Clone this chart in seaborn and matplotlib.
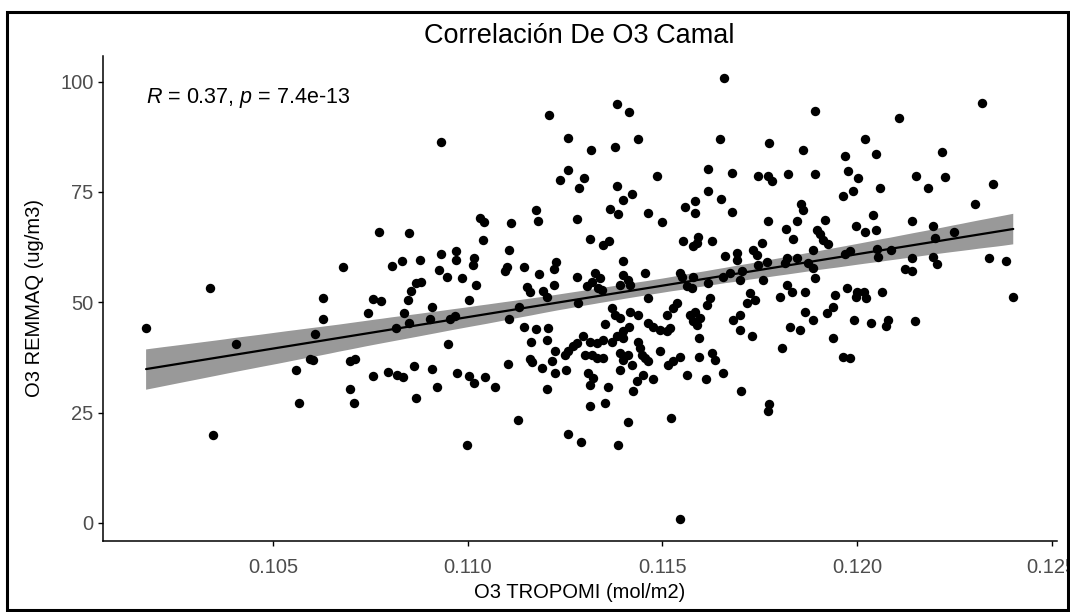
import matplotlib
matplotlib.use("Agg")
import matplotlib.pyplot as plt
from matplotlib.patches import Rectangle
from matplotlib.collections import PolyCollection
import seaborn as sns
import pandas as pd

# O3 column from TROPOMI (mol/m2) and ground O3 from the REMMAQ Camal station (ug/m3)
tropomi = [
    0.10174, 0.10338, 0.10345, 0.10405, 0.10558, 0.10566, 0.10595, 0.10603, 0.10608, 0.10628,
    0.10628, 0.10679, 0.11208, 0.10931, 0.11258, 0.11258, 0.11238, 0.11175, 0.11181, 0.11281,
    0.11032, 0.11043, 0.11110, 0.10772, 0.10849, 0.11040, 0.11107, 0.10806, 0.10831, 0.10877,
    0.10931, 0.10970, 0.10970, 0.11017, 0.11013, 0.10926, 0.10946, 0.10986, 0.11097, 0.11102,
    0.11145, 0.11227, 0.11222, 0.11184, 0.11281, 0.10880, 0.10867, 0.10854, 0.11021, 0.11152,
    0.11160, 0.11194, 0.11203, 0.11222, 0.10758, 0.10777, 0.10847, 0.11002, 0.10745, 0.10837,
    0.10908, 0.10850, 0.10903, 0.10967, 0.10955, 0.10815, 0.11106, 0.11132, 0.11282, 0.10950,
    0.11145, 0.11175, 0.11207, 0.11162, 0.11204, 0.11297, 0.11281, 0.11271, 0.11258, 0.11250,
    0.11224, 0.10698, 0.10711, 0.11160, 0.11165, 0.11103, 0.11217, 0.11190, 0.10756, 0.10796,
    0.10818, 0.10835, 0.10862, 0.10908, 0.10973, 0.11002, 0.11017, 0.11044, 0.11224, 0.11252,
    0.10698, 0.10709, 0.10920, 0.11070, 0.11203, 0.10866, 0.11130, 0.11258, 0.10997, 0.11658,
    0.11383, 0.11414, 0.11892, 0.11437, 0.11317, 0.11378, 0.11647, 0.11775, 0.11861, 0.11616,
    0.11678, 0.11745, 0.11772, 0.11781, 0.11822, 0.11892, 0.11298, 0.11287, 0.11487, 0.11383,
    0.11421, 0.11398, 0.11616, 0.11584, 0.11558, 0.11584, 0.11650, 0.11678, 0.11365, 0.11387,
    0.11464, 0.11498, 0.11856, 0.11860, 0.11845, 0.11770, 0.11918, 0.11314, 0.11364, 0.11348,
    0.11554, 0.11592, 0.11588, 0.11578, 0.11627, 0.11755, 0.11817, 0.11836, 0.11896, 0.11905,
    0.11913, 0.11926, 0.11398, 0.11327, 0.11340, 0.11318, 0.11306, 0.11335, 0.11345, 0.11400,
    0.11412, 0.11391, 0.11417, 0.11455, 0.11545, 0.11550, 0.11562, 0.11575, 0.11464, 0.11370,
    0.11378, 0.11391, 0.11417, 0.11438, 0.11353, 0.11415, 0.11400, 0.11383, 0.11370, 0.11464,
    0.11477, 0.11494, 0.11520, 0.11511, 0.11511, 0.11528, 0.11537, 0.11571, 0.11579, 0.11314,
    0.11331, 0.11348, 0.11301, 0.11318, 0.11331, 0.11348, 0.11400, 0.11438, 0.11442, 0.11447,
    0.11455, 0.11464, 0.11391, 0.11400, 0.11412, 0.11421, 0.11494, 0.11515, 0.11528, 0.11545,
    0.11391, 0.11310, 0.11323, 0.11451, 0.11477, 0.11562, 0.11314, 0.11361, 0.11425, 0.11434,
    0.11314, 0.11353, 0.11411, 0.11521, 0.11290, 0.11387, 0.11545, 0.11612, 0.11655, 0.11595,
    0.11595, 0.11627, 0.11635, 0.11701, 0.11775, 0.11770, 0.11806, 0.11661, 0.11691, 0.11691,
    0.11733, 0.11742, 0.11746, 0.11768, 0.11819, 0.11845, 0.11815, 0.11887, 0.11875, 0.11887,
    0.11892, 0.11579, 0.11618, 0.11656, 0.11674, 0.11704, 0.11699, 0.11759, 0.11819, 0.11832,
    0.11802, 0.11866, 0.11943, 0.11725, 0.11738, 0.11716, 0.11622, 0.11614, 0.11584, 0.11597,
    0.11588, 0.11699, 0.11682, 0.11866, 0.11887, 0.11939, 0.11922, 0.11828, 0.11853, 0.11699,
    0.11729, 0.11939, 0.12320, 0.12108, 0.12020, 0.11969, 0.12048, 0.12219, 0.11977, 0.12002,
    0.12152, 0.12226, 0.12350, 0.11989, 0.11965, 0.12059, 0.12183, 0.12303, 0.12040, 0.11996,
    0.12020, 0.12049, 0.12142, 0.12196, 0.12200, 0.12250, 0.11982, 0.11969, 0.12050, 0.12054,
    0.12087, 0.12140, 0.12196, 0.12206, 0.12123, 0.12140, 0.12339, 0.12382, 0.11973, 0.11999,
    0.12018, 0.11997, 0.12022, 0.12063, 0.12401, 0.11993, 0.12036, 0.12080, 0.12074, 0.12149,
    0.11963, 0.11982,
]

remmaq = [
    44.1, 53.3, 19.9, 40.6, 34.6, 27.2, 37.1, 37.0, 42.8, 46.3,
    50.9, 58.0, 92.4, 86.3, 87.3, 80.0, 77.7, 70.8, 68.5, 68.8,
    69.1, 68.2, 67.9, 66.0, 65.7, 64.0, 61.8, 58.3, 59.3, 59.6,
    60.9, 61.6, 59.5, 60.0, 58.5, 57.2, 55.8, 55.4, 57.0, 58.0,
    58.0, 59.1, 57.6, 56.5, 55.8, 54.7, 54.3, 52.6, 54.0, 53.4,
    52.4, 52.6, 51.2, 54.0, 50.8, 50.3, 50.6, 50.6, 47.6, 47.6,
    48.9, 45.4, 46.3, 46.9, 46.3, 44.2, 46.3, 48.9, 49.8, 40.6,
    44.5, 44.0, 44.2, 41.0, 41.5, 42.3, 40.8, 40.0, 38.9, 38.1,
    39.0, 36.8, 37.1, 37.1, 36.5, 36.1, 36.8, 35.2, 33.4, 34.2,
    33.6, 33.0, 35.5, 34.9, 34.0, 33.4, 31.7, 33.0, 34.0, 34.6,
    30.4, 27.2, 30.7, 30.7, 30.4, 28.2, 23.4, 20.2, 17.7, 100.9,
    95.0, 93.0, 93.4, 87.0, 84.5, 85.1, 87.0, 86.1, 84.6, 80.3,
    79.4, 78.7, 78.6, 77.4, 79.0, 79.0, 78.1, 75.9, 78.5, 76.4,
    74.6, 73.2, 75.2, 73.0, 71.5, 70.2, 73.4, 70.4, 71.1, 70.0,
    70.2, 68.2, 72.2, 70.9, 68.5, 68.5, 68.6, 64.4, 63.9, 62.9,
    63.9, 64.9, 63.5, 62.7, 63.9, 63.5, 66.6, 64.3, 66.4, 65.4,
    64.2, 63.2, 59.4, 56.6, 55.5, 54.7, 53.6, 53.2, 52.8, 56.2,
    55.1, 54.0, 54.0, 56.6, 56.6, 55.8, 53.6, 53.2, 51.0, 48.7,
    47.2, 46.4, 47.9, 47.2, 45.1, 44.5, 43.4, 42.3, 41.1, 45.3,
    44.5, 43.8, 44.2, 43.4, 47.2, 48.7, 49.8, 47.2, 45.7, 41.1,
    40.8, 41.5, 38.1, 38.1, 37.4, 37.4, 41.9, 41.1, 39.6, 38.1,
    37.4, 36.6, 38.5, 37.0, 38.1, 35.8, 38.9, 35.8, 36.6, 37.7,
    34.7, 34.0, 32.8, 33.6, 32.5, 33.6, 31.3, 30.7, 29.8, 32.1,
    26.6, 27.2, 22.8, 23.8, 18.3, 17.7, 0.9, 32.7, 34.0, 41.9,
    37.7, 38.5, 37.0, 29.8, 27.0, 25.3, 39.6, 60.4, 61.1, 59.6,
    61.9, 60.8, 58.5, 59.2, 60.0, 60.0, 58.9, 61.9, 58.9, 57.7,
    55.5, 55.8, 54.3, 55.8, 56.6, 57.0, 55.1, 55.1, 54.0, 52.4,
    51.3, 52.4, 51.7, 52.1, 50.6, 49.8, 51.0, 49.4, 47.9, 46.4,
    44.9, 47.2, 46.0, 47.9, 46.0, 49.0, 47.6, 44.5, 43.8, 43.8,
    42.3, 41.9, 95.2, 91.7, 87.0, 83.2, 83.6, 84.1, 79.8, 78.1,
    78.7, 78.4, 76.8, 75.2, 74.0, 75.9, 75.9, 72.3, 69.8, 67.3,
    66.0, 66.3, 68.5, 67.3, 64.5, 66.0, 61.7, 61.0, 62.0, 60.2,
    61.9, 60.0, 60.2, 58.7, 57.5, 57.1, 60.0, 59.4, 53.2, 52.3,
    52.3, 51.2, 51.0, 52.4, 51.2, 46.0, 45.3, 46.0, 44.7, 45.7,
    37.7, 37.4,
]

x_ticks = [0.105, 0.110, 0.115, 0.120, 0.125]
x_tick_labels = ["0.105", "0.110", "0.115", "0.120", "0.125"]
y_ticks = [0, 25, 50, 75, 100]

title = "Correlación De O3 Camal"
x_title = "O3 TROPOMI (mol/m2)"
y_title = "O3 REMMAQ (ug/m3)"
stat_label = r"$\it{R}$ = 0.37, $\it{p}$ = 7.4e-13"

df = pd.DataFrame({"tropomi": tropomi, "remmaq": remmaq})

sns.set_style("ticks")
plt.rcParams["font.family"] = ["Liberation Sans", "DejaVu Sans"]
plt.rcParams["mathtext.fontset"] = "custom"
plt.rcParams["mathtext.it"] = "Liberation Sans:italic"
plt.rcParams["mathtext.rm"] = "Liberation Sans"

fig = plt.figure(figsize=(10.70, 6.12), dpi=100)
ax = fig.add_axes([0.0960, 0.1160, 0.8915, 0.7932])

sns.regplot(
    data=df, x="tropomi", y="remmaq", ax=ax, ci=95, n_boot=2000, seed=7,
    scatter_kws=dict(s=46, color="black", linewidths=0, alpha=1, zorder=3),
    line_kws=dict(color="black", lw=1.6, zorder=4),
)

# make the confidence band an opaque mid grey under the points
for coll in ax.collections:
    if isinstance(coll, PolyCollection):
        coll.set_facecolor("#999999")
        coll.set_edgecolor("none")
        coll.set_alpha(1)
        coll.set_zorder(2)

ax.set_xlim(0.100626, 0.125124)
ax.set_ylim(-4.1, 105.9)
ax.set_xticks(x_ticks)
ax.set_xticklabels(x_tick_labels)
ax.set_yticks(y_ticks)

for side in ("top", "right"):
    ax.spines[side].set_visible(False)
for side in ("left", "bottom"):
    ax.spines[side].set_linewidth(1.1)
    ax.spines[side].set_color("black")
ax.tick_params(axis="both", length=3.5, width=1.0, color="black",
               labelsize=14.5, labelcolor="#4D4D4D", pad=3)
ax.tick_params(axis="x", pad=9)

ax.set_xlabel(x_title, fontsize=14.5, color="black", labelpad=4)
ax.set_ylabel(y_title, fontsize=14.5, color="black", labelpad=12)
ax.set_title(title, fontsize=19.5, color="black", pad=9)

ax.text(min(tropomi), 95.2, stat_label, fontsize=15.5, color="black",
        ha="left", va="baseline")

fig.patches.append(Rectangle((0.0065, 0.004), 0.9915, 0.976, transform=fig.transFigure,
                             fill=False, edgecolor="black", linewidth=2.2, zorder=10))

fig.savefig("out.png", dpi=100)
